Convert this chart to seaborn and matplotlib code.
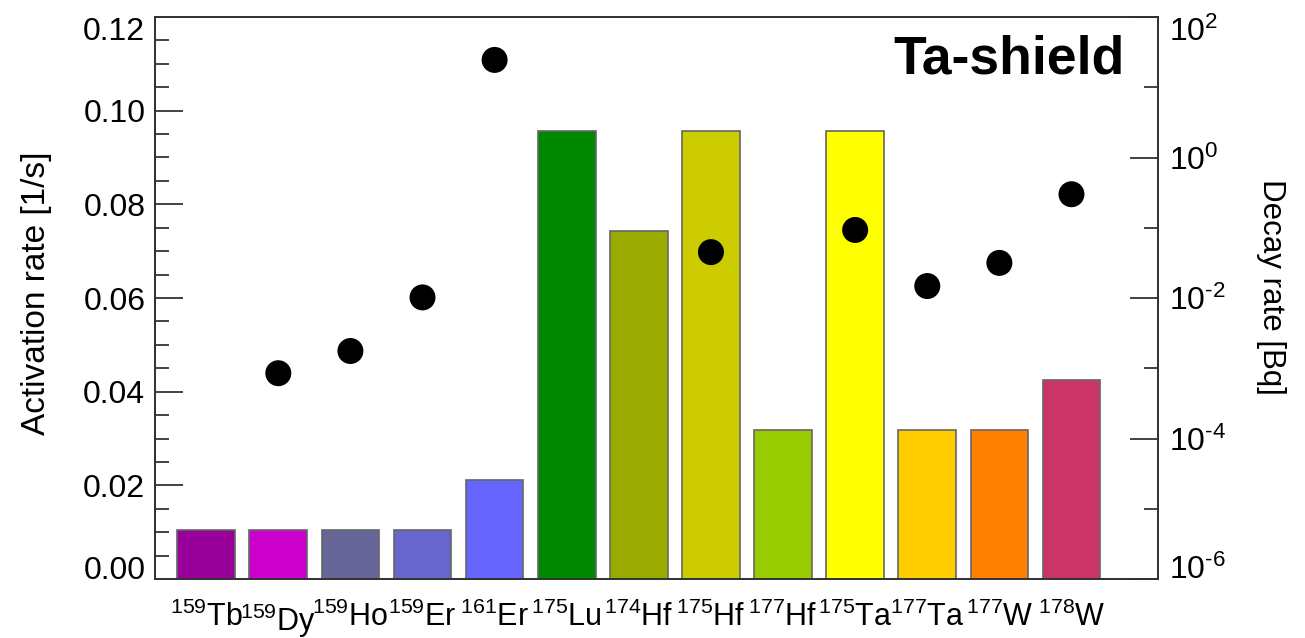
import numpy as np
import pandas as pd
import matplotlib
matplotlib.use("Agg")
import matplotlib.pyplot as plt
import matplotlib.ticker as mticker
import seaborn as sns

# ---- data ----
mass_numbers = ["159", "159", "159", "159", "161", "175", "174", "175", "177", "175", "177", "177", "178"]
elements = ["Tb", "Dy", "Ho", "Er", "Er", "Lu", "Hf", "Hf", "Hf", "Ta", "Ta", "W", "W"]
activation_rate = [0.0105, 0.0105, 0.0105, 0.0105, 0.0211, 0.0957, 0.0743, 0.0957,
                   0.0318, 0.0957, 0.0318, 0.0318, 0.0425]
decay_rate = [np.nan, 8.5e-4, 1.76e-3, 1.02e-2, 24.5, np.nan, np.nan, 4.5e-2,
              np.nan, 9.3e-2, 1.48e-2, 3.16e-2, 0.30]
bar_colors = ["#990099", "#CC00CC", "#666699", "#6666CC", "#6666FF", "#008800", "#99AA00",
              "#CCCC00", "#99CC00", "#FFFF00", "#FFCC00", "#FF8000", "#CC3366"]
title_text = "Ta-shield"

sns.set_theme(style="white")
plt.rcParams["font.family"] = ["Liberation Sans", "DejaVu Sans"]
plt.rcParams["mathtext.fontset"] = "custom"
plt.rcParams["mathtext.rm"] = "Liberation Sans"
plt.rcParams["mathtext.it"] = "Liberation Sans:italic"
plt.rcParams["mathtext.bf"] = "Liberation Sans:bold"
for k in ["text.color", "axes.labelcolor", "xtick.color", "ytick.color"]:
    plt.rcParams[k] = "black"

labels = [rf"$^{{{m}}}$" + e for m, e in zip(mass_numbers, elements)]
keys = [f"{m}{e}" for m, e in zip(mass_numbers, elements)]
df = pd.DataFrame({"key": keys, "activation": activation_rate, "decay": decay_rate})
df["pos"] = np.arange(len(df))

fig = plt.figure(figsize=(13.05, 6.38), dpi=100)
ax = fig.add_axes([155 / 1305, 1 - 579 / 638, (1158 - 155) / 1305, (579 - 17) / 638])

sns.barplot(data=df, x="key", y="activation", hue="key", order=keys,
            palette=dict(zip(keys, bar_colors)), width=0.8, legend=False,
            edgecolor="#666666", linewidth=1.2, saturation=1, ax=ax)
ax.set_xlim(-0.71, 13.2)
ax.set_ylim(0, 0.12)
ax.set_xticks(np.arange(len(keys)))
ax.set_xticklabels(labels, fontsize=22)
ax.yaxis.set_major_locator(mticker.MultipleLocator(0.02))
ax.yaxis.set_minor_locator(mticker.MultipleLocator(0.005))
ax.yaxis.set_major_formatter(mticker.FormatStrFormatter("%.2f"))
ax.tick_params(axis="y", which="major", direction="in", length=20, width=1.2,
               labelsize=23, left=True, pad=7, color="#222222")
ax.tick_params(axis="y", which="minor", direction="in", length=10, width=1.2,
               left=True, color="#222222")
ax.tick_params(axis="x", which="major", direction="in", length=11, width=1.2,
               bottom=True, pad=16, color="#222222")
ax.set_xlabel("")
ax.set_ylabel("Activation rate [1/s]", fontsize=24)
ax.yaxis.set_label_coords(-0.103, 0.509)
for s in ax.spines.values():
    s.set_color("#333333")
    s.set_linewidth(1.3)

ax2 = ax.twinx()
sub = df.dropna(subset=["decay"])
sns.scatterplot(x=sub["pos"], y=sub["decay"], color="black", s=350, marker="o",
                edgecolor="none", ax=ax2, zorder=5)
ax2.set_yscale("log")
ax2.set_ylim(1e-6, 1e2)
ax2.set_xlim(-0.71, 13.2)
ax2.yaxis.set_major_locator(mticker.FixedLocator([1e-6, 1e-4, 1e-2, 1e0, 1e2]))
ax2.yaxis.set_minor_locator(mticker.FixedLocator([1e-5, 1e-3, 1e-1, 1e1]))
ax2.yaxis.set_minor_formatter(mticker.NullFormatter())
ax2.yaxis.set_major_formatter(mticker.FuncFormatter(
    lambda v, p: r"$10^{%s}$" % (r"\text{-}%d" % -round(np.log10(v)) if v < 1 else "%d" % round(np.log10(v)))))
ax2.tick_params(axis="y", which="major", direction="in", length=20, width=1.2,
                labelsize=23, right=True, pad=8, color="#222222")
ax2.tick_params(axis="y", which="minor", direction="in", length=10, width=1.2,
                right=True, color="#222222")
ax2.set_ylabel("Decay rate [Bq]", fontsize=22.5, rotation=270, va="bottom")
ax2.yaxis.set_label_coords(1.098, 0.52)
ax2.set_xlabel("")
for s in ax2.spines.values():
    s.set_color("#333333")
    s.set_linewidth(1.3)

# end labels shifted inward like in the reference
for tick, loc in zip(ax.yaxis.get_major_ticks(), ax.yaxis.get_majorticklocs()):
    if np.isclose(loc, 0.12):
        tick.label1.set_va("top")
    elif np.isclose(loc, 0.0):
        tick.label1.set_va("baseline")
for tick, loc in zip(ax2.yaxis.get_major_ticks(), ax2.yaxis.get_majorticklocs()):
    if np.isclose(loc, 1e2):
        tick.label2.set_va("top")
    elif np.isclose(loc, 1e-6):
        tick.label2.set_va("baseline")

ax.text(0.967, 0.968, title_text, transform=ax.transAxes, ha="right", va="top",
        fontsize=38.5, fontweight="bold")

fig.savefig("out.png", dpi=100)
